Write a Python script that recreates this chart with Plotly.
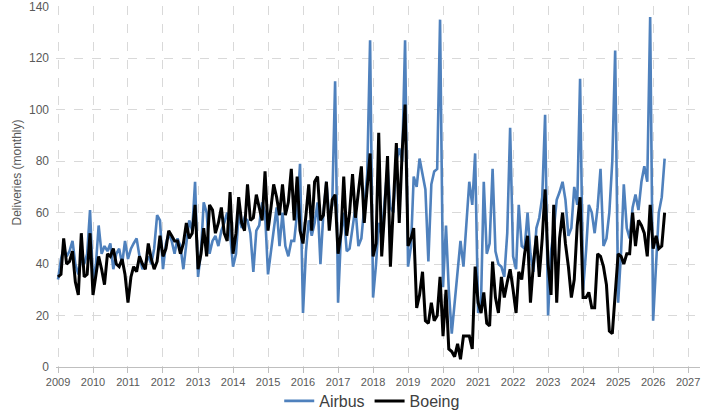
import pandas as pd
import plotly.graph_objects as go

start_month = "2009-01-01"
n_months = 209

airbus = [
    34, 42, 46, 43, 45, 49, 40, 36, 42, 40, 44, 61,    # 2009
    33, 40, 55, 44, 47, 45, 48, 38, 44, 46, 40, 49,    # 2010
    42, 46, 48, 50, 43, 38, 40, 43, 40, 46, 59, 57,    # 2011
    38, 48, 52, 49, 44, 50, 47, 38, 48, 57, 53, 72,    # 2012
    35, 45, 64, 60, 44, 49, 51, 47, 53, 56, 60, 52,    # 2013
    39, 44, 60, 54, 58, 57, 52, 37, 53, 55, 64, 60,    # 2014
    36, 45, 55, 62, 47, 60, 47, 43, 49, 49, 60, 79,    # 2015
    21, 45, 57, 51, 56, 64, 40, 60, 72, 58, 63, 111,   # 2016
    25, 52, 60, 45, 46, 55, 62, 47, 50, 62, 75, 127,   # 2017
    27, 40, 56, 51, 65, 78, 62, 60, 80, 85, 80, 127,   # 2018
    39, 47, 74, 70, 81, 75, 69, 41, 71, 76, 77, 135,   # 2019
    31, 55, 30, 13, 25, 38, 49, 39, 57, 72, 63, 83,    # 2020
    21, 26, 72, 44, 48, 77, 45, 40, 39, 35, 52, 93,    # 2021
    43, 38, 63, 47, 46, 60, 44, 37, 54, 58, 66, 98,    # 2022
    20, 45, 53, 65, 68, 72, 65, 51, 54, 70, 63, 112,   # 2023
    30, 45, 63, 60, 52, 62, 77, 47, 50, 60, 80, 123,   # 2024
    25, 45, 71, 54, 50, 62, 67, 61, 72, 78, 72, 136,   # 2025
    18, 40, 60, 66, 81,                                # 2026
]

boeing = [
    35, 36, 50, 40, 41, 45, 33, 28, 52, 35, 36, 52,    # 2009
    28, 35, 43, 38, 32, 44, 43, 46, 40, 39, 42, 36,    # 2010
    25, 35, 39, 37, 43, 40, 38, 48, 42, 38, 41, 51,    # 2011
    43, 46, 53, 51, 49, 49, 44, 48, 56, 50, 52, 63,    # 2012
    38, 44, 54, 43, 63, 61, 52, 56, 62, 52, 49, 68,    # 2013
    44, 52, 66, 56, 53, 71, 57, 58, 67, 62, 57, 76,    # 2014
    53, 62, 71, 66, 59, 71, 59, 64, 77, 57, 74, 53,    # 2015
    48, 59, 71, 53, 72, 74, 57, 59, 72, 53, 65, 67,    # 2016
    44, 52, 74, 51, 60, 75, 58, 68, 78, 56, 70, 83,    # 2017
    43, 48, 91, 43, 60, 82, 39, 62, 87, 56, 84, 102,   # 2018
    47, 50, 54, 23, 28, 37, 18, 17, 25, 18, 20, 35,    # 2019
    12, 30, 7, 6, 4, 9, 3, 12, 12, 12, 7, 39,          # 2020
    25, 21, 29, 17, 16, 41, 27, 21, 35, 27, 33, 38,    # 2021
    30, 21, 37, 34, 44, 51, 25, 40, 51, 35, 50, 69,    # 2022
    40, 28, 63, 25, 50, 60, 48, 39, 27, 34, 55, 66,    # 2023
    27, 27, 29, 23, 23, 44, 43, 39, 32, 14, 13, 30,    # 2024
    44, 43, 40, 44, 44, 60, 47, 57, 55, 52, 43, 63,    # 2025
    46, 51, 46, 47, 60,                                # 2026
]

y_title = "Deliveries (monthly)"

months = pd.date_range(start_month, periods=n_months, freq="MS")

font_family = "Liberation Sans, Arial, sans-serif"
grid_color = "#d9d9d9"
text_color = "#595959"

fig = go.Figure()
fig.add_trace(go.Scatter(x=months, y=airbus, mode="lines", name="Airbus",
                         line=dict(color="#4f81bd", width=2.6)))
fig.add_trace(go.Scatter(x=months, y=boeing, mode="lines", name="Boeing",
                         line=dict(color="#000000", width=3)))

fig.update_layout(
    width=709, height=410,
    margin=dict(l=56, r=9, t=6, b=43, autoexpand=False),
    paper_bgcolor="white", plot_bgcolor="white",
    font=dict(family=font_family, color=text_color, size=11),
    showlegend=True,
    legend=dict(orientation="h", xref="container", yref="container",
                x=0.525, xanchor="center", y=0.022, yanchor="middle",
                font=dict(size=16, color="#404040"), itemwidth=30,
                bgcolor="rgba(0,0,0,0)"),
)
fig.add_annotation(text=y_title, textangle=-90, xref="paper", yref="paper",
                   x=-0.061, y=0.538, xanchor="center", yanchor="middle",
                   showarrow=False, font=dict(size=12, color=text_color))
fig.update_xaxes(
    type="date",
    range=["2008-12-11", "2027-05-05"],
    tick0="2009-01-01", dtick="M12", tickformat="%Y",
    showgrid=True, gridcolor=grid_color, griddash="dash", gridwidth=1,
    showline=True, linecolor="#bfbfbf", linewidth=1,
    ticks="outside", ticklen=5, tickcolor="#bfbfbf",
    tickfont=dict(size=11, color=text_color),
    zeroline=False,
)
fig.update_yaxes(
    range=[0, 140.3], dtick=20,
    showgrid=True, gridcolor=grid_color, griddash="dash", gridwidth=1,
    showline=False, zeroline=False,
    ticks="", ticklabelstandoff=6, ticklabeloverflow="allow",
    tickfont=dict(size=12, color=text_color),
)

fig.write_html("out.html")
